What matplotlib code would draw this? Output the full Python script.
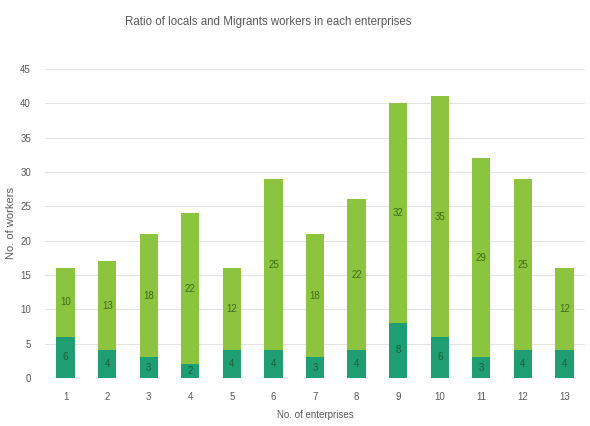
import matplotlib
matplotlib.use("Agg")
import matplotlib.pyplot as plt
import numpy as np

plt.rcParams['font.family'] = ['Liberation Sans Narrow', 'Liberation Sans', 'DejaVu Sans']

enterprises = [str(i) for i in range(1, 14)]
locals_ = [6, 4, 3, 2, 4, 4, 3, 4, 8, 6, 3, 4, 4]
migrants = [10, 13, 18, 22, 12, 25, 18, 22, 32, 35, 29, 25, 12]
yticks = [0, 5, 10, 15, 20, 25, 30, 35, 40, 45]

dark = '#1f9e73'
light = '#8cc43f'
text_col = '#595959'

fig = plt.figure(figsize=(5.9, 4.26), dpi=100)
ax = fig.add_axes([0.076, 0.113, 0.916, 0.725])

x = np.arange(1, len(enterprises) + 1)
w = 0.44
ax.bar(x, locals_, w, color=dark, zorder=3)
ax.bar(x, migrants, w, bottom=locals_, color=light, zorder=3)

for xi, lo, mi in zip(x, locals_, migrants):
    ax.text(xi, lo / 2, str(lo), ha='center', va='center', fontsize=7, color='#1a5e3a', zorder=4)
    ax.text(xi, lo + mi / 2, str(mi), ha='center', va='center', fontsize=7, color='#3d6b1a', zorder=4)

ax.set_xlim(0.5, len(enterprises) + 0.5)
ax.set_ylim(0, 45)
ax.set_xticks(x)
ax.set_xticklabels(enterprises)
ax.set_yticks(yticks)
ax.yaxis.grid(True, color='#e3e3e3', linewidth=0.8, zorder=0)
for s in ax.spines.values():
    s.set_visible(False)
ax.tick_params(length=0, labelsize=7, colors=text_col, pad=10)
ax.tick_params(axis='y', pad=10)

ax.set_xlabel('No. of enterprises', fontsize=7, color=text_col, labelpad=6)
ax.set_ylabel('No. of workers', fontsize=8, color=text_col, labelpad=3)
fig.text(0.455, 0.948, 'Ratio of locals and Migrants workers in each enterprises',
         fontsize=8.3, color=text_col, ha='center', va='center')

fig.savefig('out.png', dpi=100)
